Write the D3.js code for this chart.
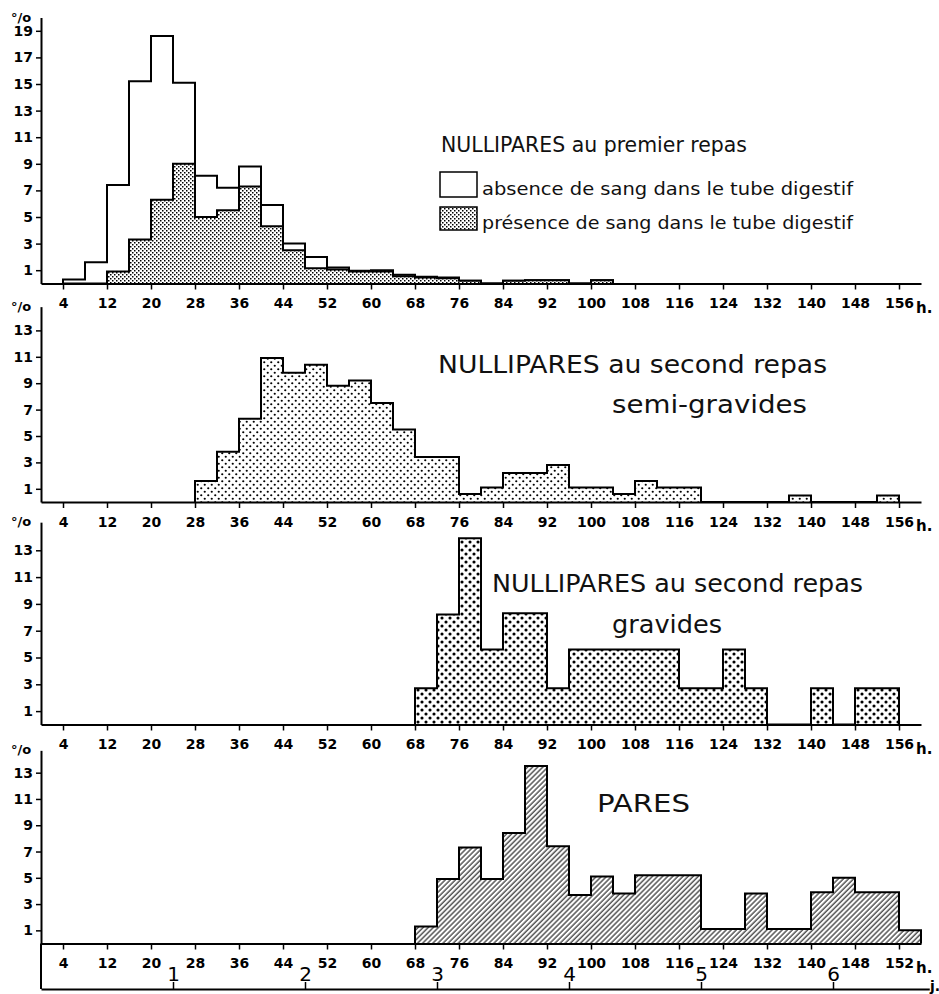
<!DOCTYPE html>
<html lang="fr">
<head>
<meta charset="UTF-8">
<title>Nullipares / Pares</title>
<style>
  body { margin: 0; background: #fff; }
  svg { display: block; }
  .tick text { font-family: "DejaVu Sans", sans-serif; }
  .title { font-family: "DejaVu Sans", sans-serif; fill: #111; }
</style>
</head>
<body>
<script src="https://cdn.jsdelivr.net/npm/d3@7"></script>
<script>
// bins are 4 h wide, value = % of females
const binStart1 = [4, 8, 12, 16, 20, 24, 28, 32, 36, 40, 44, 48, 52, 56, 60, 64, 68, 72, 76, 80, 84, 88, 92, 96, 100];
const absence1  = [0.3, 1.6, 7.4, 15.2, 18.6, 15.1, 8.1, 7.2, 8.8, 5.9, 3.0, 2.0, 1.2, 0.95, 1.0, 0.65, 0.5, 0.45, 0.2, 0, 0.2, 0.25, 0.25, 0, 0.25];
const presence1 = [0, 0, 0.9, 3.3, 6.3, 9.0, 5.0, 5.5, 7.3, 4.3, 2.5, 1.15, 1.05, 0.9, 0.9, 0.55, 0.45, 0.4, 0.2, 0, 0.2, 0.25, 0.25, 0, 0.25];

const binStart2 = [28, 32, 36, 40, 44, 48, 52, 56, 60, 64, 68, 72, 76, 80, 84, 88, 92, 96, 100, 104, 108, 112, 116, 120, 124, 128, 132, 136, 140, 144, 148, 152];
const semiGravides = [1.6, 3.8, 6.3, 10.9, 9.8, 10.4, 8.8, 9.2, 7.5, 5.5, 3.4, 3.4, 0.6, 1.1, 2.2, 2.2, 2.8, 1.1, 1.1, 0.6, 1.6, 1.1, 1.1, 0, 0, 0, 0, 0.5, 0, 0, 0, 0.5];

const binStart3 = [68, 72, 76, 80, 84, 88, 92, 96, 100, 104, 108, 112, 116, 120, 124, 128, 132, 136, 140, 144, 148, 152];
const gravides  = [2.7, 8.2, 13.9, 5.6, 8.3, 8.3, 2.7, 5.6, 5.6, 5.6, 5.6, 5.6, 2.7, 2.7, 5.6, 2.7, 0, 0, 2.7, 0, 2.7, 2.7];

const binStart4 = [68, 72, 76, 80, 84, 88, 92, 96, 100, 104, 108, 112, 116, 120, 124, 128, 132, 136, 140, 144, 148, 152, 156];
const pares     = [1.3, 4.9, 7.3, 4.9, 8.4, 13.5, 7.4, 3.7, 5.1, 3.8, 5.2, 5.2, 5.2, 1.1, 1.1, 3.8, 1.1, 1.1, 3.9, 5.0, 3.9, 3.9, 1.0];

const hourTicks = [4, 12, 20, 28, 36, 44, 52, 60, 68, 76, 84, 92, 100, 108, 116, 124, 132, 140, 148, 156];
const hourLabels = hourTicks.map(String);
const hourLabelsPares = hourTicks.map((d, i) => i === hourTicks.length - 1 ? "152" : String(d));
const pctTicks1 = [1, 3, 5, 7, 9, 11, 13, 15, 17, 19];
const pctTicks = [1, 3, 5, 7, 9, 11, 13];
const dayTicks = [24, 48, 72, 96, 120, 144];
const dayLabels = ["1", "2", "3", "4", "5", "6"];

const W = 939, H = 994, BW = 4;
const svg = d3.select("body").append("svg").attr("width", W).attr("height", H);

// fill patterns
const defs = svg.append("defs");
const fine = defs.append("pattern").attr("id", "fine").attr("patternUnits", "userSpaceOnUse")
  .attr("width", 4).attr("height", 4);
fine.append("rect").attr("width", 4).attr("height", 4).attr("fill", "#fff");
fine.append("rect").attr("width", 1.5).attr("height", 1.5).attr("fill", "#000");
fine.append("rect").attr("x", 2).attr("y", 2).attr("width", 1.5).attr("height", 1.5).attr("fill", "#000");

function dotPattern(id, s, r) {
  const p = defs.append("pattern").attr("id", id).attr("patternUnits", "userSpaceOnUse")
    .attr("width", s).attr("height", s);
  p.append("rect").attr("width", s).attr("height", s).attr("fill", "#fff");
  p.append("circle").attr("cx", s / 4).attr("cy", s / 4).attr("r", r).attr("fill", "#000");
  p.append("circle").attr("cx", 3 * s / 4).attr("cy", 3 * s / 4).attr("r", r).attr("fill", "#000");
}
dotPattern("dots2", 7, 1.1);
dotPattern("dots3", 8, 1.55);

const hatch = defs.append("pattern").attr("id", "hatch").attr("patternUnits", "userSpaceOnUse")
  .attr("width", 3.6).attr("height", 3.6).attr("patternTransform", "rotate(45)");
hatch.append("rect").attr("width", 3.6).attr("height", 3.6).attr("fill", "#fff");
hatch.append("line").attr("x1", 1).attr("y1", 0).attr("x2", 1).attr("y2", 3.6)
  .attr("stroke", "#000").attr("stroke-width", 1);

const x = d3.scaleLinear().domain([0, 160]).range([41, 921]);

// step outline through every bin, dropping to the baseline at both ends
function stepPoints(starts, vals) {
  const pts = [[starts[0], 0]];
  starts.forEach((s, i) => { pts.push([s, vals[i]]); pts.push([s + BW, vals[i]]); });
  pts.push([starts[starts.length - 1] + BW, 0]);
  return pts;
}

function drawHist(g, y, starts, vals, fill) {
  const line = d3.line().x(d => x(d[0])).y(d => y(d[1]));
  const pts = stepPoints(starts, vals);
  g.append("path").attr("d", line(pts) + "Z").attr("fill", fill).attr("stroke", "none");
  g.append("path").attr("d", line(pts))
    .attr("fill", "none").attr("stroke", "#000").attr("stroke-width", 2);
}

function panel(base, unit, top, yTicks, xLabels) {
  const g = svg.append("g");
  const y = d3.scaleLinear().domain([0, top]).range([base, base - top * unit]);
  return { g, y, base, top, yTicks, xLabels };
}

function axes(p) {
  const yAx = p.g.append("g").attr("transform", `translate(${x(0)},0)`)
    .call(d3.axisLeft(p.y).tickValues(p.yTicks).tickSize(5).tickSizeOuter(0).tickPadding(3));
  yAx.selectAll(".tick text").style("font-size", "14px").style("font-weight", "bold");
  const xAx = p.g.append("g").attr("transform", `translate(0,${p.base})`)
    .call(d3.axisBottom(x).tickValues(hourTicks).tickFormat((d, i) => p.xLabels[i])
      .tickSize(6).tickSizeOuter(0).tickPadding(9));
  xAx.selectAll(".tick text").style("font-size", "14px").style("font-weight", "bold");
  [yAx, xAx].forEach(a => {
    a.select(".domain").attr("stroke-width", 2);
    a.selectAll(".tick line").attr("stroke-width", 1.5);
  });
  p.g.append("text").attr("x", 11).attr("y", p.y(p.top) + 4)
    .attr("font-family", "DejaVu Sans").attr("font-weight", "bold").attr("font-size", 13)
    .text("°/o");
  p.g.append("text").attr("x", x(156) + 17).attr("y", p.base + 29)
    .attr("font-family", "DejaVu Sans").attr("font-weight", "bold").attr("font-size", 15)
    .text("h.");
}

function title(g, txt, x0, yb, size, len) {
  g.append("text").attr("class", "title").attr("x", x0).attr("y", yb)
    .attr("font-size", size).attr("textLength", len).attr("lengthAdjust", "spacingAndGlyphs")
    .text(txt);
}

// panel 1 : premier repas
const p1 = panel(283.5, 13.3, 20, pctTicks1, hourLabels);
drawHist(p1.g, p1.y, binStart1, absence1, "#fff");
drawHist(p1.g, p1.y, binStart1, presence1, "url(#fine)");
axes(p1);
title(p1.g, "NULLIPARES au premier repas", 441, 152, 21, 306);
p1.g.append("rect").attr("x", 440).attr("y", 172).attr("width", 37).attr("height", 25)
  .attr("fill", "#fff").attr("stroke", "#000").attr("stroke-width", 1.5);
p1.g.append("rect").attr("x", 440).attr("y", 207).attr("width", 37).attr("height", 23)
  .attr("fill", "url(#fine)").attr("stroke", "#000").attr("stroke-width", 1.5);
title(p1.g, "absence  de sang dans le tube digestif", 482, 195, 17, 371);
title(p1.g, "présence de sang dans le tube digestif", 482, 229, 17, 371);

// panel 2 : second repas, semi-gravides
const p2 = panel(502, 13.2, 14.8, pctTicks, hourLabels);
drawHist(p2.g, p2.y, binStart2, semiGravides, "url(#dots2)");
axes(p2);
title(p2.g, "NULLIPARES au second repas", 438, 373, 24, 389);
title(p2.g, "semi-gravides", 612, 413, 24, 195);

// panel 3 : second repas, gravides
const p3 = panel(724.5, 13.4, 15.1, pctTicks, hourLabels);
drawHist(p3.g, p3.y, binStart3, gravides, "url(#dots3)");
axes(p3);
title(p3.g, "NULLIPARES au second repas", 492, 592, 24, 371);
title(p3.g, "gravides", 612, 633, 24, 110);

// panel 4 : pares
const p4 = panel(943.5, 13.14, 14.7, pctTicks, hourLabelsPares);
drawHist(p4.g, p4.y, binStart4, pares, "url(#hatch)");
axes(p4);
title(p4.g, "PARES", 597, 812, 24, 93);

// day axis under the last panel
const xDay = x.copy().domain([0, 161.5]).range([x(0), x(161.5)]);
const dAx = svg.append("g").attr("transform", "translate(0,989)")
  .call(d3.axisTop(xDay).tickValues(dayTicks).tickFormat((d, i) => dayLabels[i])
    .tickSize(7).tickSizeOuter(0).tickPadding(1));
dAx.selectAll(".tick text").style("font-size", "20px").style("font-weight", "normal");
dAx.select(".domain").attr("stroke-width", 2);
dAx.selectAll(".tick line").attr("stroke-width", 1.5);
svg.append("line").attr("x1", x(0)).attr("x2", x(0)).attr("y1", p4.base).attr("y2", 989)
  .attr("stroke", "#000").attr("stroke-width", 2);
svg.append("text").attr("x", 930).attr("y", 991).attr("font-family", "DejaVu Sans")
  .attr("font-weight", "bold").attr("font-size", 14).text("j.");
</script>
</body>
</html>
